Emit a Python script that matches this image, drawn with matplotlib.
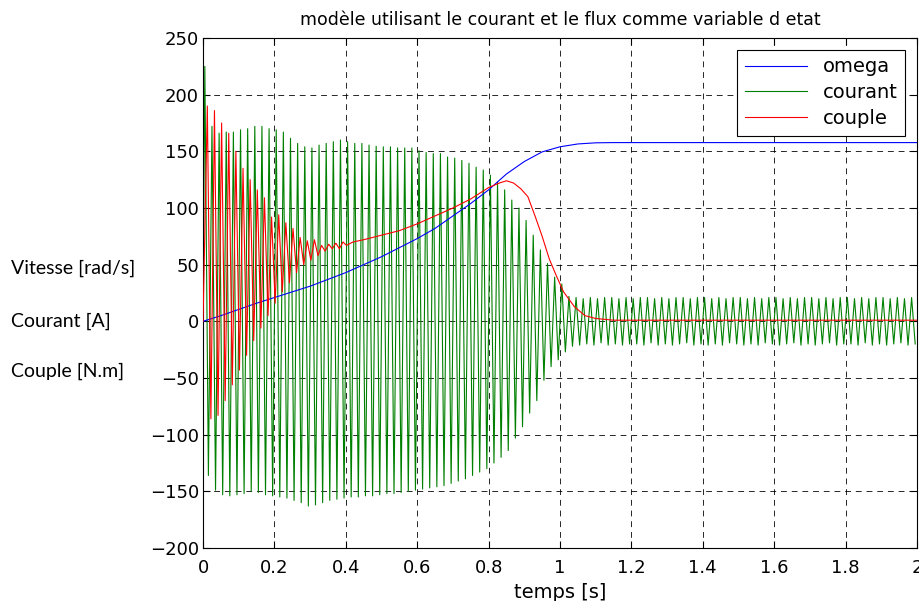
import numpy as np
import matplotlib.pyplot as plt

plt.rcParams['font.family'] = ['DejaVu Sans']

# vitesse (omega), courbe bleue
t_omega = [0, 0.05, 0.1, 0.15, 0.2, 0.25, 0.3, 0.35, 0.4, 0.45, 0.5, 0.55, 0.6,
           0.65, 0.7, 0.75, 0.8, 0.85, 0.9, 0.95, 1.0, 1.05, 1.1, 1.15, 2.0]
omega = [0, 5, 10.5, 16, 21, 26, 31, 37, 43, 50, 57, 65, 73,
         82, 93, 104, 116, 130, 141, 149.5, 154, 156.5, 157.5, 157.7, 157.7]

# courant : crete haute et crete basse de chaque periode (50 Hz)
courant_haut = [225, 172, 166, 167, 167, 169, 170, 172, 172, 170,
                169, 167, 161.5, 157, 154, 153, 155.5, 157, 158.5, 160,
                158.5, 157, 157, 155.5, 154.5, 154, 154, 153, 153, 153,
                150.5, 149, 148, 148, 145, 144, 142, 139.5, 136, 133.5,
                129, 123, 116, 107, 100, 89, 76, 63, 51, 39,
                33, 22, 21, 20, 21, 20, 21, 21, 20, 21,
                20, 21, 21, 20, 21, 20, 21, 21, 20, 21,
                21, 20, 21, 20, 21, 21, 20, 21, 20, 21,
                21, 20, 21, 20, 21, 21, 20, 21, 20, 21,
                21, 20, 21, 20, 21, 21, 20, 21, 20, 21]
courant_bas = [-136, -149, -153, -154, -153, -152, -150, -151, -153, -154,
               -155, -156, -158, -160, -163, -162, -160, -158, -157, -156,
               -155, -155, -154, -154, -153, -152, -152, -151, -150, -149,
               -148, -147, -146, -145, -143, -141, -139, -136, -133, -130,
               -125, -120, -114, -103, -93, -81, -70, -52, -40, -34,
               -27, -22, -21, -20, -21, -19, -21, -20, -21, -20,
               -20, -21, -19, -21, -20, -21, -20, -19, -21, -20,
               -21, -20, -21, -19, -20, -21, -20, -21, -19, -20,
               -21, -20, -19, -21, -20, -21, -20, -19, -21, -20,
               -20, -21, -19, -21, -20, -21, -20, -19, -21, -20]

# couple : oscillation du demarrage puis partie lisse
couple_haut = [190, 186, 175, 166, 150, 135, 125, 116, 109, 92,
               94, 87, 82, 74, 71, 72, 67, 68, 69, 70]
couple_bas = [-86, -83, -70, -56, -43, -30, -17, -6, 5, 16,
              26, 34, 43, 50, 54, 58, 62, 64, 64, 67]
t_couple_lisse = [0.42, 0.45, 0.5, 0.55, 0.6, 0.65, 0.7, 0.75, 0.8, 0.83, 0.85,
                  0.87, 0.89, 0.91, 0.93, 0.95, 0.97, 0.99, 1.01, 1.04, 1.07,
                  1.1, 1.15, 2.0]
couple_lisse = [70, 72, 76, 80, 86, 93, 100, 108, 118, 122, 124,
                122, 117, 110, 93, 75, 55, 40, 26, 13, 5,
                2.5, 1, 1]

periode = 0.02

# on alterne crete haute / crete basse
n = len(courant_haut)
t_cour = np.empty(2 * n)
cour = np.empty(2 * n)
t_cour[0::2] = 0.005 + periode * np.arange(n)
t_cour[1::2] = 0.015 + periode * np.arange(n)
cour[0::2] = courant_haut
cour[1::2] = courant_bas
t_cour = np.concatenate([[0], t_cour])
cour = np.concatenate([[0], cour])

m = len(couple_haut)
t_osc = np.empty(2 * m)
osc = np.empty(2 * m)
t_osc[0::2] = 0.012 + periode * np.arange(m)
t_osc[1::2] = 0.022 + periode * np.arange(m)
osc[0::2] = couple_haut
osc[1::2] = couple_bas
t_cpl = np.concatenate([[0], t_osc, t_couple_lisse])
cpl = np.concatenate([[0], osc, couple_lisse])

fig = plt.figure(figsize=(9.2, 6.01), dpi=100)
ax = fig.add_axes([0.2207, 0.0882, 0.776, 0.8486])

ax.plot(t_omega, omega, color='blue', lw=0.8, label='omega', zorder=3)
ax.plot(t_cour, cour, color='#008000', lw=0.8, label='courant', zorder=2)
ax.plot(t_cpl, cpl, color='red', lw=0.8, label='couple', zorder=4)

ax.set_xlim(0, 2)
ax.set_ylim(-200, 250)
xt = np.arange(0, 2.01, 0.2)
ax.set_xticks(xt)
ax.set_xticklabels(['%g' % round(v, 1) for v in xt])
ax.set_yticks(np.arange(-200, 251, 50))
ax.grid(True, color='black', linestyle=(0, (6, 5)), linewidth=0.7, alpha=0.85)
ax.tick_params(direction='in', top=True, right=True, labelsize=13, length=5, pad=3)
ax.tick_params(axis='x', pad=8)

ax.set_title('modèle utilisant le courant et le flux comme variable d etat',
             fontsize=12.5, pad=9)
ax.set_xlabel('temps [s]', fontsize=14, labelpad=4)

leg = ax.legend(loc='upper right', fontsize=14, handlelength=3.2,
                fancybox=False, framealpha=1, edgecolor='black',
                borderaxespad=0.6, labelspacing=0.35)
leg.get_frame().set_linewidth(0.8)

for y, txt in [(268, 'Vitesse [rad/s]'), (321, 'Courant [A]'), (371, 'Couple [N.m]')]:
    fig.text(11 / 920, 1 - y / 601, txt, va='center', ha='left',
             fontsize=14, family=['Lato', 'DejaVu Sans'])

fig.savefig('out.png', dpi=100)
